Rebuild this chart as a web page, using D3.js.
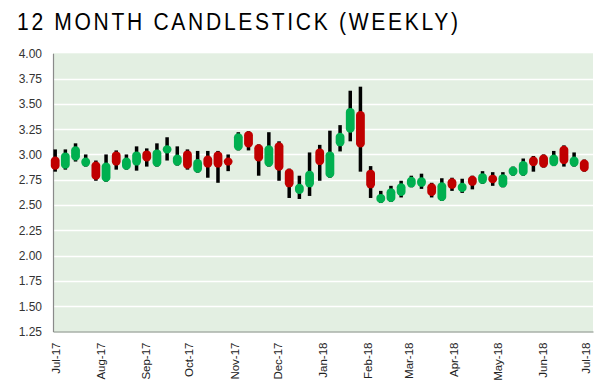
<!DOCTYPE html>
<html><head><meta charset="utf-8">
<script src="https://cdn.jsdelivr.net/npm/d3@7"></script>
<style>body{margin:0;background:#fff}svg{display:block}</style>
</head><body>
<svg id="c" width="611" height="390"></svg>
<script>
const dates = ["2017-07-01","2017-07-08","2017-07-15","2017-07-22","2017-07-29","2017-08-05","2017-08-12","2017-08-19","2017-08-26","2017-09-02","2017-09-09","2017-09-16","2017-09-23","2017-09-30","2017-10-07","2017-10-14","2017-10-21","2017-10-28","2017-11-04","2017-11-11","2017-11-18","2017-11-25","2017-12-02","2017-12-09","2017-12-16","2017-12-23","2017-12-30","2018-01-06","2018-01-13","2018-01-20","2018-01-27","2018-02-03","2018-02-10","2018-02-17","2018-02-24","2018-03-03","2018-03-10","2018-03-17","2018-03-24","2018-03-31","2018-04-07","2018-04-14","2018-04-21","2018-04-28","2018-05-05","2018-05-12","2018-05-19","2018-05-26","2018-06-02","2018-06-09","2018-06-16","2018-06-23","2018-06-30"];
const open  = [2.98,2.86,2.94,2.88,2.93,2.73,3.03,2.85,2.89,3.04,2.88,3.01,2.89,3.04,2.82,2.99,3.03,2.97,3.04,3.23,3.10,2.88,3.12,2.86,2.61,2.675,3.06,2.77,3.08,3.215,3.43,2.85,2.52,2.53,2.59,2.675,2.68,2.715,2.54,2.765,2.63,2.79,2.71,2.80,2.675,2.79,2.79,2.98,3.00,2.885,3.085,2.88,2.95];
const high  = [3.05,3.05,3.11,3.00,2.94,3.00,3.04,3.00,3.08,3.06,3.11,3.17,3.08,3.05,3.035,3.035,3.035,3.00,3.22,3.23,3.10,3.22,3.13,2.86,2.79,3.02,3.095,3.235,3.29,3.63,3.67,2.885,2.64,2.69,2.74,2.79,2.81,2.72,2.765,2.77,2.76,2.79,2.835,2.825,2.825,2.88,2.96,2.985,3.00,3.035,3.09,3.02,2.95];
const low   = [2.83,2.85,2.93,2.88,2.74,2.73,2.85,2.85,2.84,2.88,2.88,2.94,2.89,2.85,2.82,2.77,2.72,2.835,3.04,3.04,2.79,2.88,2.74,2.57,2.56,2.59,2.74,2.77,3.03,3.13,2.83,2.57,2.52,2.53,2.575,2.675,2.66,2.575,2.54,2.64,2.62,2.655,2.71,2.69,2.675,2.79,2.79,2.83,2.87,2.885,2.88,2.88,2.83];
const close = [2.85,3.02,3.08,2.97,2.75,2.92,2.89,2.97,3.03,2.93,3.05,3.09,3.00,2.86,2.955,2.87,2.87,2.89,3.21,3.07,2.93,3.09,2.84,2.675,2.71,2.84,2.895,3.03,3.215,3.46,3.07,2.665,2.61,2.665,2.715,2.78,2.775,2.59,2.725,2.66,2.72,2.69,2.815,2.715,2.805,2.88,2.935,2.885,2.87,3.00,2.905,2.98,2.83];
const yTicks = [1.25,1.5,1.75,2.0,2.25,2.5,2.75,3.0,3.25,3.5,3.75,4.0];
const monthTicks = ["2017-07-01","2017-08-01","2017-09-01","2017-10-01","2017-11-01","2017-12-01","2018-01-01","2018-02-01","2018-03-01","2018-04-01","2018-05-01","2018-06-01","2018-07-01"];
const title = "12 MONTH CANDLESTICK (WEEKLY)";

const svg = d3.select("#c");
const L = 53, R = 593, T = 53.3, B = 331.5;
const x = d3.scaleUtc().domain([new Date(Date.UTC(2017,5,29,12)), new Date(Date.UTC(2018,6,6))]).range([L, R]);
const y = d3.scaleLinear().domain([1.25, 4]).range([B, T]);
const pd = d3.utcParse("%Y-%m-%d");

const sx = 0.86;
svg.append("text").attr("transform", `translate(17,30) scale(${sx},1)`)
  .attr("x", 0).attr("y", 0).attr("textLength", 441 / sx).attr("lengthAdjust", "spacing")
  .style("font-family", "'Liberation Sans',Arial,sans-serif").style("font-size", "24.5px")
  .attr("fill", "#000").text(title);

svg.append("rect").attr("x", L).attr("y", T).attr("width", R - L).attr("height", B - T).attr("fill", "#E3EFE2");

svg.append("g").selectAll("line").data(yTicks.filter(d => d > 1.25 && d < 4)).join("line")
  .attr("x1", L).attr("x2", R).attr("y1", d => Math.round(y(d)) + 0.5).attr("y2", d => Math.round(y(d)) + 0.5)
  .attr("stroke", "#fff").attr("stroke-width", 1.5);

const yAxis = svg.append("g").attr("transform", `translate(${L},0)`)
  .call(d3.axisLeft(y).tickValues(yTicks).tickFormat(d3.format(".2f")).tickSize(0).tickPadding(11));
yAxis.select(".domain").attr("stroke", "#8a8a8a").attr("stroke-width", 1.2);
yAxis.selectAll("text").style("font-family", "'Liberation Sans',Arial,sans-serif").style("font-size", "12px").attr("fill", "#333");

const xAxis = svg.append("g").attr("transform", `translate(0,${B})`)
  .call(d3.axisBottom(x).tickValues(monthTicks.map(pd)).tickFormat(d3.utcFormat("%b-%y")).tickSize(0));
xAxis.select(".domain").attr("stroke", "#7f8a7f").attr("stroke-width", 1.2);
xAxis.selectAll("text").attr("transform", "rotate(-90)").attr("x", -11).attr("y", 0).attr("dy", "0.35em")
  .attr("text-anchor", "end").style("font-family", "'Liberation Sans',Arial,sans-serif")
  .style("font-size", "11.5px").attr("fill", "#222");

const data = dates.map((d, i) => ({ d: pd(d), o: open[i], h: high[i], l: low[i], c: close[i] }));
const g = svg.append("g");
g.selectAll("rect.wick").data(data).join("rect").attr("class", "wick")
  .attr("x", d => x(d.d) - 1.75).attr("width", 3.5)
  .attr("y", d => y(d.h)).attr("height", d => y(d.l) - y(d.h)).attr("fill", "#000");
g.selectAll("rect.body").data(data).join("rect").attr("class", "body")
  .attr("x", d => x(d.d) - 4.4).attr("width", 8.8)
  .attr("y", d => y(Math.max(d.o, d.c))).attr("height", d => Math.abs(y(d.o) - y(d.c)))
  .attr("rx", 4.4).attr("ry", d => Math.min(4, Math.abs(y(d.o) - y(d.c)) / 2))
  .attr("fill", d => d.c >= d.o ? "#00B050" : "#C00000");
</script>
</body></html>
